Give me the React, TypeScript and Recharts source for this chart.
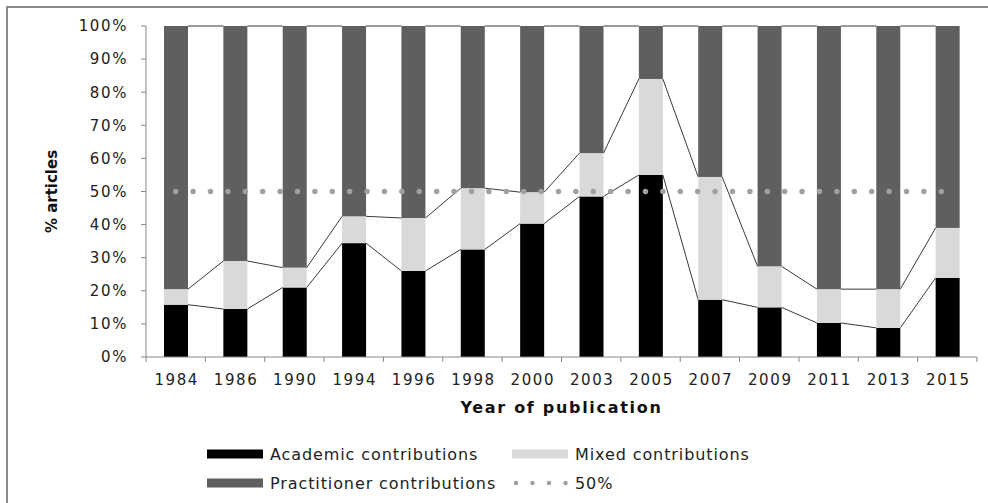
import React from 'react';
import { ComposedChart, Bar, Line, XAxis, YAxis, Legend } from 'recharts';

const years = ['1984', '1986', '1990', '1994', '1996', '1998', '2000', '2003', '2005', '2007', '2009', '2011', '2013', '2015'];
const academic = [15.8, 14.5, 21, 34.4, 26, 32.5, 40.3, 48.5, 55, 17.3, 15, 10.3, 8.8, 23.9];
const mixed = [4.7, 14.5, 6, 8.1, 16, 18.5, 9.5, 13.1, 29, 37.1, 12.4, 10.2, 11.7, 15.1];
const practitioner = [79.5, 71, 73, 57.5, 58, 49, 50.2, 38.4, 16, 45.6, 72.6, 79.5, 79.5, 61];
const halfLine = [50, 50, 50, 50, 50, 50, 50, 50, 50, 50, 50, 50, 50, 50];
const yTicks = [0, 10, 20, 30, 40, 50, 60, 70, 80, 90, 100];

const data = years.map((year, i) => ({
  year,
  academic: academic[i],
  mixed: mixed[i],
  practitioner: practitioner[i],
  half: halfLine[i],
}));

const FONT = '"DejaVu Sans", sans-serif';
const AXIS_GREY = '#868686';
const SERIES_LINE = '#3a3a3a';

// Excel-style series lines: each bar joins its top-left corner to the previous bar's top-right corner
const lastTop: Record<string, { x: number; y: number } | null> = {};

const seriesShape = (key: string, fill: string) => (props: any) => {
  const { x, y, width, height, index } = props;
  const prev = index === 0 ? null : lastTop[key];
  lastTop[key] = { x: x + width, y };
  return (
    <g>
      <rect x={x} y={y} width={width} height={height} fill={fill} />
      {prev && <line x1={prev.x} y1={prev.y} x2={x} y2={y} stroke={SERIES_LINE} strokeWidth={1} />}
    </g>
  );
};

const XTick = (props: any) => {
  const { x, y, payload, index } = props;
  const half = payload && payload.offset ? payload.offset : 29.68;
  return (
    <g>
      <line x1={x - half} y1={y} x2={x - half} y2={y + 5} stroke={AXIS_GREY} />
      {index === years.length - 1 && <line x1={x + half} y1={y} x2={x + half} y2={y + 5} stroke={AXIS_GREY} />}
      <text x={x + 1} y={y + 28} textAnchor="middle" fontFamily={FONT} fontSize={15} letterSpacing={1.6} fill="#222">
        {payload.value}
      </text>
    </g>
  );
};

const legendRows = [
  [
    { name: 'Academic contributions', color: '#000000', kind: 'rect' },
    { name: 'Mixed contributions', color: '#d9d9d9', kind: 'rect' },
  ],
  [
    { name: 'Practitioner contributions', color: '#5f5f5f', kind: 'rect' },
    { name: '50%', color: '#a0a0a0', kind: 'dots' },
  ],
];

const renderLegend = () => (
  <div style={{ position: 'relative', width: 988, height: 60, fontFamily: FONT, fontSize: 16, color: '#222', letterSpacing: 0.9 }}>
    {legendRows.map((row, r) =>
      row.map((item, c) => (
        <div
          key={item.name}
          style={{ position: 'absolute', left: c === 0 ? 207 : 512, top: r * 29, height: 20, display: 'flex', alignItems: 'center', whiteSpace: 'nowrap' }}
        >
          <svg width={56} height={10} style={{ marginRight: 7 }}>
            {item.kind === 'rect' ? (
              <rect x={0} y={0.5} width={56} height={9} fill={item.color} />
            ) : (
              <line x1={4} y1={5} x2={54} y2={5} stroke={item.color} strokeWidth={4.5} strokeDasharray="0 16.5" strokeLinecap="round" />
            )}
          </svg>
          <span>{item.name}</span>
        </div>
      ))
    )}
  </div>
);

export default function App() {
  return (
    <div style={{ position: 'absolute', left: 0, top: 0, width: 988, height: 503, overflow: 'hidden', background: '#fff' }}>
      <div style={{ position: 'absolute', left: 6, top: 6, width: 1000, height: 520, border: '2px solid #8a8a8a' }} />
      <div style={{ position: 'absolute', left: 0, top: 0 }}>
        <ComposedChart width={988} height={503} data={data} margin={{ top: 26, right: 11, left: 86, bottom: 24 }} barSize={24}>
          <XAxis
            dataKey="year"
            height={62}
            tickLine={false}
            tickSize={0}
            tickMargin={0}
            tick={<XTick />}
            interval={0}
            axisLine={{ stroke: AXIS_GREY }}
            label={{
              content: (p: any) => {
                const vb = p.viewBox;
                return (
                  <text x={vb.x + vb.width / 2} y={vb.y + 56} textAnchor="middle" fontFamily={FONT} fontSize={16} fontWeight="bold" letterSpacing={1.7} fill="#111">
                    Year of publication
                  </text>
                );
              },
            }}
          />
          <YAxis
            width={60}
            domain={[0, 100]}
            ticks={yTicks}
            interval={0}
            tickFormatter={(v: number) => v + '%'}
            axisLine={{ stroke: AXIS_GREY }}
            tickLine={{ stroke: AXIS_GREY }}
            tickSize={5}
            tickMargin={13}
            tick={{ fontFamily: FONT, fontSize: 15, letterSpacing: 1.6, fill: '#222' }}
            label={{
              content: (p: any) => {
                const vb = p.viewBox;
                const cx = vb.x - 34;
                const cy = vb.y + vb.height / 2;
                return (
                  <text x={cx} y={cy} transform={`rotate(-90 ${cx} ${cy})`} textAnchor="middle" dominantBaseline="central" fontFamily={FONT} fontSize={15} fontWeight="bold" fill="#111">
                    % articles
                  </text>
                );
              },
            }}
          />
          <Legend content={renderLegend} wrapperStyle={{ position: 'absolute', left: 0, top: 444, width: 988, height: 60 }} />
          <Bar dataKey="academic" name="Academic contributions" stackId="a" fill="#000000" shape={seriesShape('academic', '#000000')} isAnimationActive={false} />
          <Bar dataKey="mixed" name="Mixed contributions" stackId="a" fill="#d9d9d9" shape={seriesShape('mixed', '#d9d9d9')} isAnimationActive={false} />
          <Bar dataKey="practitioner" name="Practitioner contributions" stackId="a" fill="#5f5f5f" shape={seriesShape('practitioner', '#5f5f5f')} isAnimationActive={false} />
          <Line
            dataKey="half"
            name="50%"
            type="linear"
            stroke="#a0a0a0"
            strokeWidth={5.5}
            strokeDasharray="0 17.4"
            strokeLinecap="round"
            dot={false}
            activeDot={false}
            isAnimationActive={false}
          />
        </ComposedChart>
      </div>
    </div>
  );
}
